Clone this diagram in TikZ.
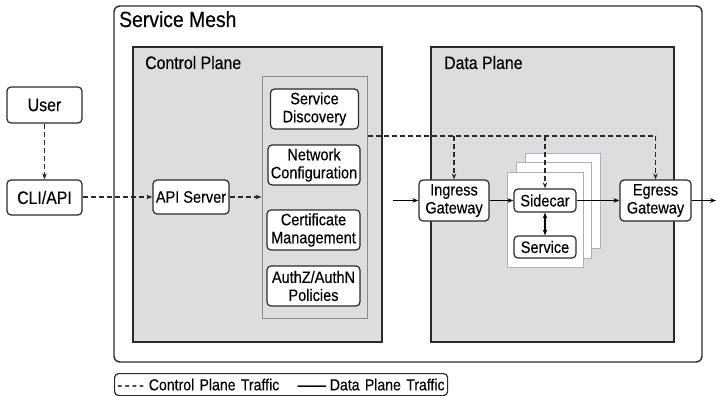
\documentclass[tikz,border=0pt]{standalone}
\usepackage{fontspec}
\setmainfont{Liberation Sans}[FakeStretch=0.88, FakeBold=0.35]
\usetikzlibrary{arrows.meta}

\definecolor{panel}{HTML}{DCDDDF}
\definecolor{edge}{HTML}{2A2A2A}
\definecolor{groupedge}{HTML}{8A8A8A}
\definecolor{cardedge}{HTML}{B0B0B0}

\tikzset{
  box/.style={draw=edge, line width=1.2pt, rounded corners=4pt, fill=white,
    align=center, inner sep=0pt, font=\fontsize{16.5}{18}\selectfont},
  bigbox/.style={box, font=\fontsize{18}{19}\selectfont},
  panelbox/.style={draw=edge, line width=1.4pt, fill=panel},
  card/.style={draw=cardedge, line width=1pt, fill=white},
  title/.style={anchor=base west, inner sep=0pt},
  ctrl/.style={draw=edge, line width=1.1pt, dash pattern=on 5pt off 3pt,
    -{Stealth[length=6pt,width=4.5pt]}},
  data/.style={draw=black, line width=1.1pt, -{Stealth[length=6pt,width=4.5pt]}},
}

\begin{document}
\begin{tikzpicture}[x=1pt, y=-1pt]
  \useasboundingbox (0,0) rectangle (716,396);

  % outer mesh frame
  \draw[draw=edge, line width=1.4pt, rounded corners=6pt] (114,6) rectangle (702,362);
  \node[title, font=\fontsize{22}{24}\selectfont] (meshlabel) at (119,27) {Service Mesh};

  % control plane panel
  \draw[panelbox] (133,47) rectangle (382,342);
  \node[title, font=\fontsize{18}{20}\selectfont] (cplabel) at (145,69) {Control Plane};
  \node[draw=groupedge, line width=1pt, fill=panel, minimum width=105pt,
        minimum height=241pt, inner sep=0pt] (group) at (314.5,197.5) {};

  % data plane panel
  \draw[panelbox] (431,47) rectangle (674,342);
  \node[title, font=\fontsize{18}{20}\selectfont] (dplabel) at (444,69) {Data Plane};

  % stacked workload cards
  \draw[card] (525,154) rectangle (600,248);
  \draw[card] (516,163) rectangle (591,258);
  \draw[card] (507,172) rectangle (583,267);

  % client side
  \node[bigbox, minimum width=75pt, minimum height=36pt] (user) at (44.5,105) {User};
  \node[bigbox, minimum width=75pt, minimum height=35pt] (cli) at (44.5,197.5) {CLI/API};

  % control plane components
  \node[box, minimum width=76pt, minimum height=34pt] (api) at (191,197) {API Server};
  \node[box, minimum width=88pt, minimum height=40pt] (sd) at (314.5,109) {Service\\Discovery};
  \node[box, minimum width=92pt, minimum height=40pt] (nc) at (314,165) {Network\\Configuration};
  \node[box, minimum width=93pt, minimum height=40pt] (cm) at (313.5,230) {Certificate\\Management};
  \node[box, minimum width=93pt, minimum height=40pt] (authz) at (313.5,286) {AuthZ/AuthN\\Policies};

  % data plane components
  \node[box, minimum width=70pt, minimum height=41pt] (ingress) at (454,200.5) {Ingress\\Gateway};
  \node[box, minimum width=62pt, minimum height=23pt] (sidecar) at (545,200.5) {Sidecar};
  \node[box, minimum width=62pt, minimum height=22pt] (service) at (545,247) {Service};
  \node[box, minimum width=71pt, minimum height=41pt] (egress) at (655.5,200.5) {Egress\\Gateway};

  % control plane traffic
  \draw[ctrl] (user) -- (cli);
  \draw[ctrl] (cli.east |- api.west) -- (api.west);
  \draw[ctrl] (api.east) -- (group.west |- api.east);
  \coordinate (bus) at (0,136);
  \draw[ctrl, -] (group.east |- bus) -- (egress.north |- bus);
  \draw[ctrl] (ingress.north |- bus) -- (ingress.north);
  \draw[ctrl] (sidecar.north |- bus) -- (sidecar.north);
  \draw[ctrl] (egress.north |- bus) -- (egress.north);

  % data plane traffic
  \coordinate (inflow) at (393,200.5);
  \coordinate (outflow) at (716,200.5);
  \draw[data] (inflow) -- (ingress.west);
  \draw[data] (ingress.east) -- (sidecar.west);
  \draw[data] (sidecar.east) -- (egress.west);
  \draw[data] (egress.east) -- (outflow);
  \draw[data, {Stealth[length=6pt,width=4.5pt]}-{Stealth[length=6pt,width=4.5pt]}] (sidecar.south) -- (service.north);

  % legend
  \node[draw=edge, line width=1.2pt, rounded corners=4pt, anchor=north west,
        text width=327pt, minimum height=22pt, inner sep=3pt, align=left,
        font=\fontsize{16}{17}\selectfont] (legend) at (114,373)
    {{-}\kern2.5pt{-}\kern2.5pt{-}\kern2.5pt{-}\kern5pt Control Plane Traffic\hfill——\kern4pt Data Plane Traffic};
\end{tikzpicture}
\end{document}
